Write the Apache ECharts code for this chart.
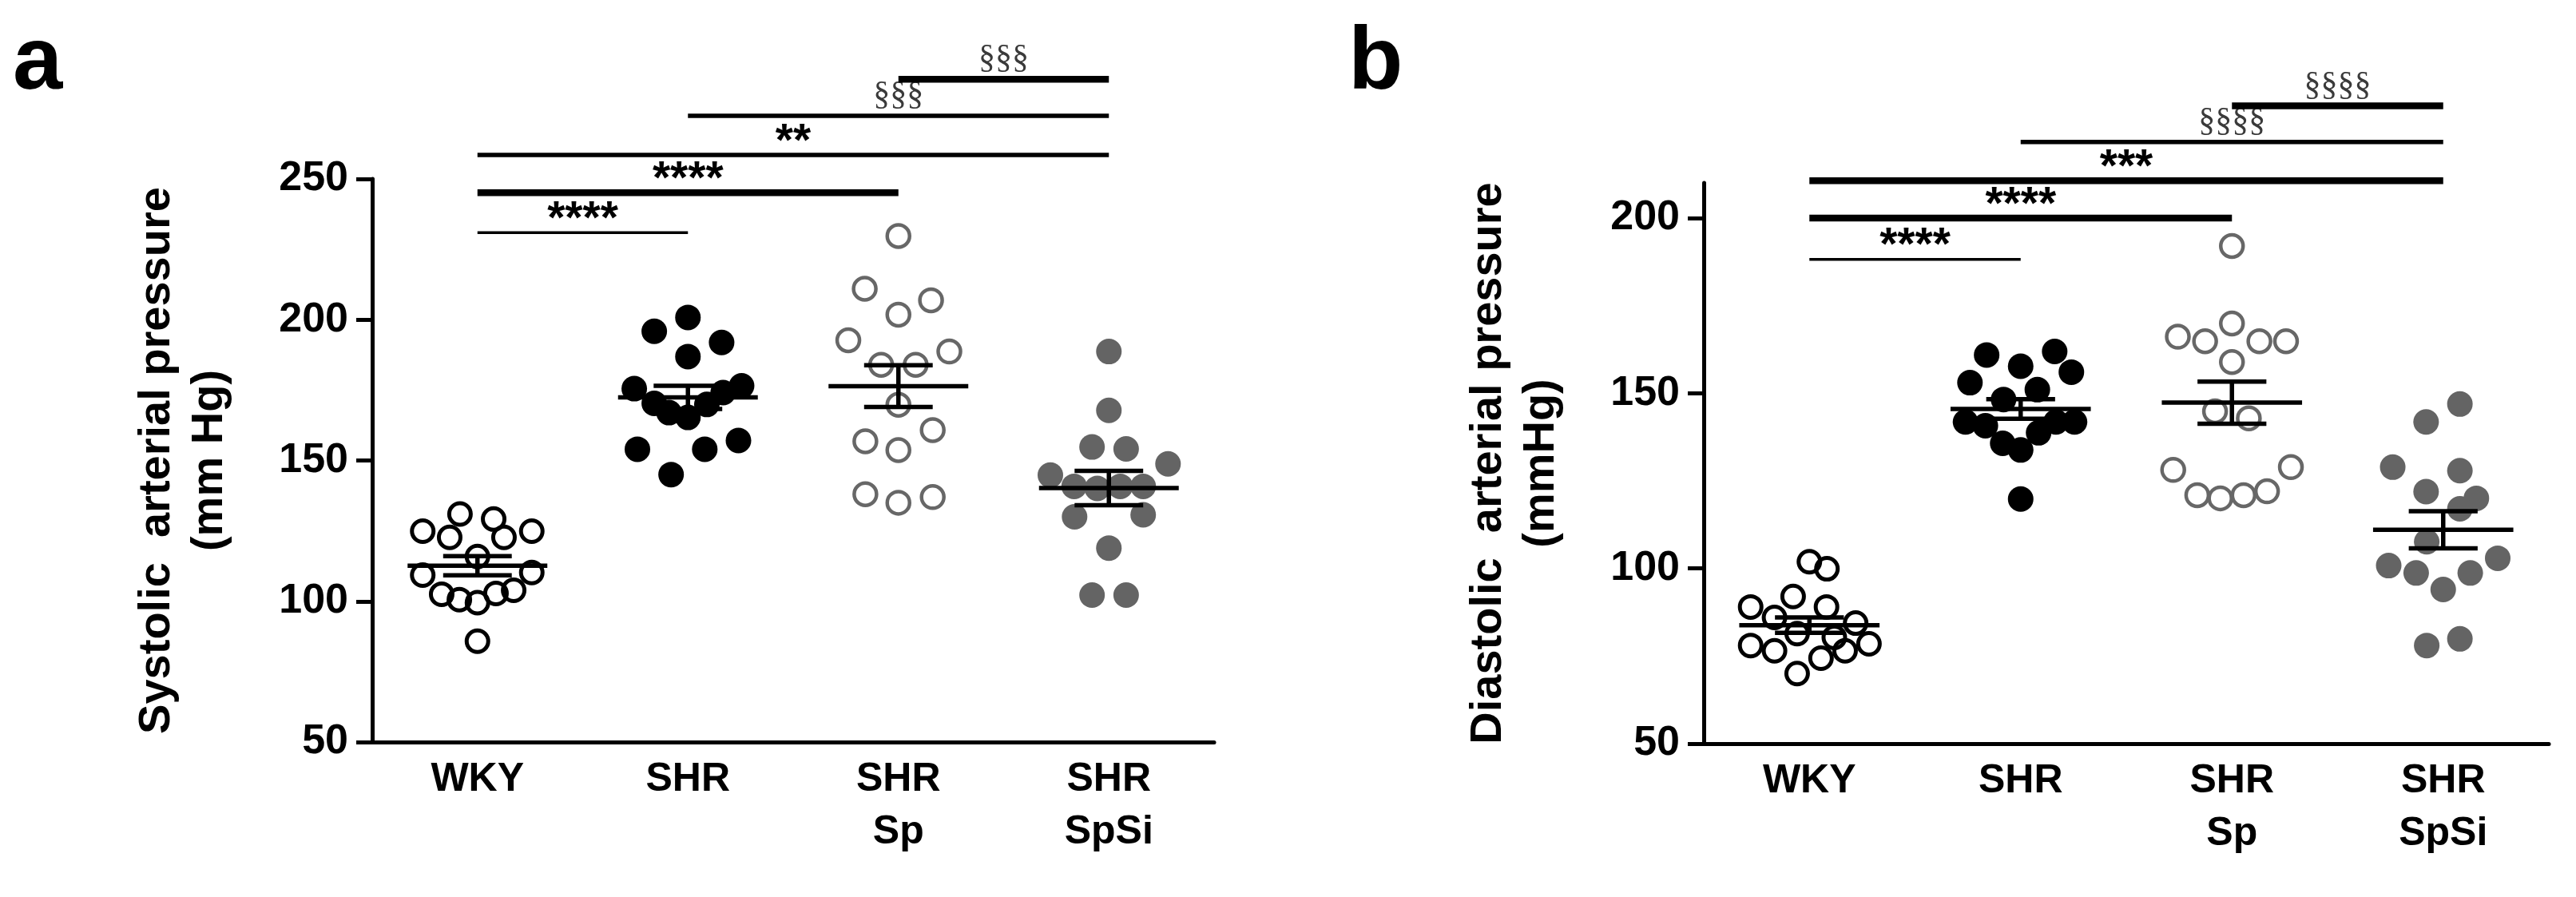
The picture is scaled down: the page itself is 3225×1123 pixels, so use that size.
<!DOCTYPE html>
<html>
<head>
<meta charset="utf-8">
<script src="https://cdn.jsdelivr.net/npm/echarts@6/dist/echarts.min.js"></script>
<style>
  html, body { margin: 0; padding: 0; background: #fff; }
  #chart { width: 3225px; height: 1123px; }
</style>
</head>
<body>
<div id="chart"></div>
<script>
// 分组
var categories = ['WKY', 'SHR', 'SHR\nSp', 'SHR\nSpSi'];

// a: 收缩压 (mm Hg)
var sysWKY = [124.9, 131, 122.7, 129.2, 122.7, 124.9, 115.9, 109.3, 110.2, 102.5, 100.6, 99.5, 102.8, 103.9, 85.8];
var sysWKYdx = [-0.26, -0.083, -0.132, 0.077, 0.126, 0.258, 0, -0.26, 0.258, -0.17, -0.086, 0, 0.088, 0.172, 0];
var sysSHR = [200.8, 195.9, 191.9, 186.9, 175.5, 176.5, 174.1, 170.3, 167, 165.3, 169.9, 154, 154, 157.1, 145];
var sysSHRdx = [0, -0.16, 0.16, 0, -0.255, 0.255, 0.167, -0.16, -0.09, 0, 0.09, -0.24, 0.08, 0.24, -0.08];
var sysSp = [229.7, 211, 206.9, 201.8, 192.7, 188.7, 184, 184, 169.8, 160.8, 156.8, 153.7, 138, 135, 137];
var sysSpdx = [0, -0.16, 0.155, 0, -0.238, 0.242, -0.082, 0.082, 0, 0.163, -0.157, 0, -0.157, 0, 0.163];
var sysSpSi = [188.7, 167.8, 154.8, 154.1, 148.8, 144.8, 140.8, 140.1, 140.8, 140.8, 130, 130.7, 118.9, 102.2, 102.2];
var sysSpSidx = [0, 0, -0.08, 0.082, 0.281, -0.278, -0.165, -0.055, 0.054, 0.163, -0.163, 0.163, 0, -0.08, 0.082];
var sysMean = [112.6, 172.4, 176.4, 140.2];
var sysSem = [3.4, 4.1, 7.4, 6.1];

// b: 舒张压 (mmHg)
var diaWKY = [101.9, 99.9, 92, 89, 89, 86, 84.4, 81.4, 80.3, 78, 76.5, 76.5, 78.5, 74.4, 70];
var diaWKYdx = [0, 0.083, -0.077, -0.278, 0.081, -0.165, 0.219, -0.058, 0.118, -0.278, -0.165, 0.169, 0.282, 0.055, -0.058];
var diaSHR = [160.9, 161.9, 157.7, 156, 153, 148.2, 151, 141.8, 140.7, 141.8, 141.8, 138.7, 135.7, 133.8, 119.8];
var diaSHRdx = [-0.161, 0.161, 0, 0.24, -0.24, -0.081, 0.079, -0.261, -0.167, 0.167, 0.255, 0.085, -0.085, 0, 0];
var diaSp = [192, 169.9, 166.1, 164.8, 164.8, 164.8, 158.9, 144.8, 142.8, 128.1, 128.9, 120.9, 120, 120.9, 122];
var diaSpdx = [0, 0, -0.256, -0.127, 0.13, 0.256, 0, -0.08, 0.08, -0.278, 0.279, -0.164, -0.055, 0.055, 0.166];
var diaSpSi = [146.9, 141.8, 128.9, 127.9, 121.9, 120, 117, 107.6, 100.8, 98.7, 98.7, 102.9, 94, 78, 79.9];
var diaSpSidx = [0.079, -0.081, -0.239, 0.079, -0.081, 0.157, 0.079, -0.078, -0.258, -0.128, 0.128, 0.258, 0, -0.078, 0.079];
var diaMean = [83.8, 145.5, 147.3, 111];
var diaSem = [2.2, 2.8, 6, 5.3];

// 显著性标记
var sigFromA = [0, 0, 0, 1, 2];
var sigToA = [1, 2, 3, 3, 3];
var sigYA = [230.9, 245.1, 258.5, 272.4, 285.4];
var sigTextA = ['****', '****', '**', '§§§', '§§§'];
var sigFromB = [0, 0, 0, 1, 2];
var sigToB = [1, 2, 3, 3, 3];
var sigYB = [188.2, 200, 210.6, 221.7, 232];
var sigTextB = ['****', '****', '***', '§§§§', '§§§§'];

// 线宽 (样式)
var sigWeightA = [3.5, 8.5, 5.5, 5.5, 8.5];
var sigWeightB = [3.5, 8.5, 8.5, 5.5, 8.5];

var FONT = '"Liberation Sans", Arial, sans-serif';

function points(vals, dx, idx) {
    var out = [];
    for (var i = 0; i < vals.length; i++) {
        out.push([idx + dx[i], vals[i]]);
    }
    return out;
}

function meanSemData(mean, sem) {
    var out = [];
    for (var i = 0; i < mean.length; i++) {
        out.push([i, mean[i], sem[i]]);
    }
    return out;
}

function sigData(from, to, y) {
    var out = [];
    for (var i = 0; i < from.length; i++) {
        out.push([from[i], to[i], y[i]]);
    }
    return out;
}

// 均值 ± SEM
function renderMeanSem(params, api) {
    var c = api.value(0), m = api.value(1), s = api.value(2);
    var st = { stroke: '#000', lineWidth: 5.5 };
    var mL = api.coord([c - 0.332, m]), mR = api.coord([c + 0.332, m]);
    var uL = api.coord([c - 0.163, m + s]), uR = api.coord([c + 0.163, m + s]);
    var lL = api.coord([c - 0.163, m - s]), lR = api.coord([c + 0.163, m - s]);
    var vT = api.coord([c, m + s]), vB = api.coord([c, m - s]);
    return {
        type: 'group',
        children: [
            { type: 'line', shape: { x1: mL[0], y1: mL[1], x2: mR[0], y2: mR[1] }, style: st },
            { type: 'line', shape: { x1: uL[0], y1: uL[1], x2: uR[0], y2: uR[1] }, style: st },
            { type: 'line', shape: { x1: lL[0], y1: lL[1], x2: lR[0], y2: lR[1] }, style: st },
            { type: 'line', shape: { x1: vT[0], y1: vT[1], x2: vB[0], y2: vB[1] }, style: st }
        ]
    };
}

function makeSigRender(texts, weights) {
    return function (params, api) {
        var i = params.dataIndex;
        var p1 = api.coord([api.value(0), api.value(2)]);
        var p2 = api.coord([api.value(1), api.value(2)]);
        var t = texts[i];
        var isSec = t.charAt(0) === '§';
        return {
            type: 'group',
            children: [
                { type: 'line', shape: { x1: p1[0], y1: p1[1], x2: p2[0], y2: p2[1] },
                  style: { stroke: '#000', lineWidth: weights[i] } },
                { type: 'text', style: {
                    text: t, x: (p1[0] + p2[0]) / 2, y: p1[1] - (isSec ? 25 : 15),
                    align: 'center', verticalAlign: 'middle',
                    font: isSec ? '42px "Liberation Serif", serif' : 'bold 57px ' + FONT,
                    fill: isSec ? '#3a3a3a' : '#000' } }
            ]
        };
    };
}

function catAxis(gi) {
    return {
        gridIndex: gi, type: 'category', data: categories, boundaryGap: true,
        axisLine: { onZero: false, lineStyle: { color: '#000', width: 5 } },
        axisTick: { alignWithLabel: true, length: 20, lineStyle: { color: '#000', width: 5 } },
        axisLabel: { color: '#000', fontSize: 50, fontWeight: 'bold', fontFamily: FONT, margin: 14, lineHeight: 66 },
        splitLine: { show: false }
    };
}

function valXAxis(gi) {
    return { gridIndex: gi, type: 'value', min: -0.5, max: 3.5, show: false };
}

function yAxisOf(gi, max, name, ticks) {
    return {
        gridIndex: gi, type: 'value', min: 50, max: max, interval: 50,
        name: name, nameLocation: 'middle', nameGap: 170, nameRotate: 90,
        nameTextStyle: { color: '#000', fontSize: 56, fontWeight: 'bold', fontFamily: FONT, lineHeight: 66 },
        axisLine: { show: true, onZero: false, lineStyle: { color: '#000', width: 5 } },
        axisTick: { show: true, length: 20, customValues: ticks, lineStyle: { color: '#000', width: 5 } },
        axisLabel: { color: '#000', fontSize: 52, fontWeight: 'bold', fontFamily: FONT, margin: 30, customValues: ticks },
        splitLine: { show: false }
    };
}

function scatter(xi, yi, data, style) {
    return {
        type: 'scatter', xAxisIndex: xi, yAxisIndex: yi, data: data,
        symbol: 'circle', symbolSize: style.size, z: 2,
        itemStyle: { color: style.fill, borderColor: style.stroke, borderWidth: style.bw, opacity: 1 },
        emphasis: { disabled: true }
    };
}

var openBlack = { size: 27, fill: 'rgba(0,0,0,0)', stroke: '#000', bw: 5 };
var filledBlack = { size: 32, fill: '#000', stroke: '#000', bw: 0 };
var openGray = { size: 28, fill: 'rgba(0,0,0,0)', stroke: '#676767', bw: 4.5 };
var filledGray = { size: 32, fill: '#646464', stroke: '#646464', bw: 0 };

var chart = echarts.init(document.getElementById('chart'));
var option = {
    backgroundColor: '#fff',
    animation: false,
    graphic: [
        { type: 'text', left: 16, top: 24, style: { text: 'a', font: 'bold 112px ' + FONT, fill: '#000' } },
        { type: 'text', left: 1688, top: 24, style: { text: 'b', font: 'bold 112px ' + FONT, fill: '#000' } }
    ],
    grid: [
        { left: 466, top: 224, width: 1054, height: 705 },
        { left: 2133, top: 229, width: 1058, height: 702 }
    ],
    xAxis: [catAxis(0), valXAxis(0), catAxis(1), valXAxis(1)],
    yAxis: [
        yAxisOf(0, 250, 'Systolic  arterial pressure\n(mm Hg)', [50, 100, 150, 200, 250]),
        yAxisOf(1, 210, 'Diastolic  arterial pressure\n(mmHg)', [50, 100, 150, 200])
    ],
    series: [
        scatter(1, 0, points(sysWKY, sysWKYdx, 0), openBlack),
        scatter(1, 0, points(sysSHR, sysSHRdx, 1), filledBlack),
        scatter(1, 0, points(sysSp, sysSpdx, 2), openGray),
        scatter(1, 0, points(sysSpSi, sysSpSidx, 3), filledGray),
        scatter(3, 1, points(diaWKY, diaWKYdx, 0), openBlack),
        scatter(3, 1, points(diaSHR, diaSHRdx, 1), filledBlack),
        scatter(3, 1, points(diaSp, diaSpdx, 2), openGray),
        scatter(3, 1, points(diaSpSi, diaSpSidx, 3), filledGray),
        { type: 'custom', xAxisIndex: 1, yAxisIndex: 0, z: 5, clip: false,
          renderItem: renderMeanSem, data: meanSemData(sysMean, sysSem) },
        { type: 'custom', xAxisIndex: 3, yAxisIndex: 1, z: 5, clip: false,
          renderItem: renderMeanSem, data: meanSemData(diaMean, diaSem) },
        { type: 'custom', xAxisIndex: 1, yAxisIndex: 0, z: 5, clip: false,
          renderItem: makeSigRender(sigTextA, sigWeightA), data: sigData(sigFromA, sigToA, sigYA) },
        { type: 'custom', xAxisIndex: 3, yAxisIndex: 1, z: 5, clip: false,
          renderItem: makeSigRender(sigTextB, sigWeightB), data: sigData(sigFromB, sigToB, sigYB) }
    ]
};
chart.setOption(option);
</script>
</body>
</html>
